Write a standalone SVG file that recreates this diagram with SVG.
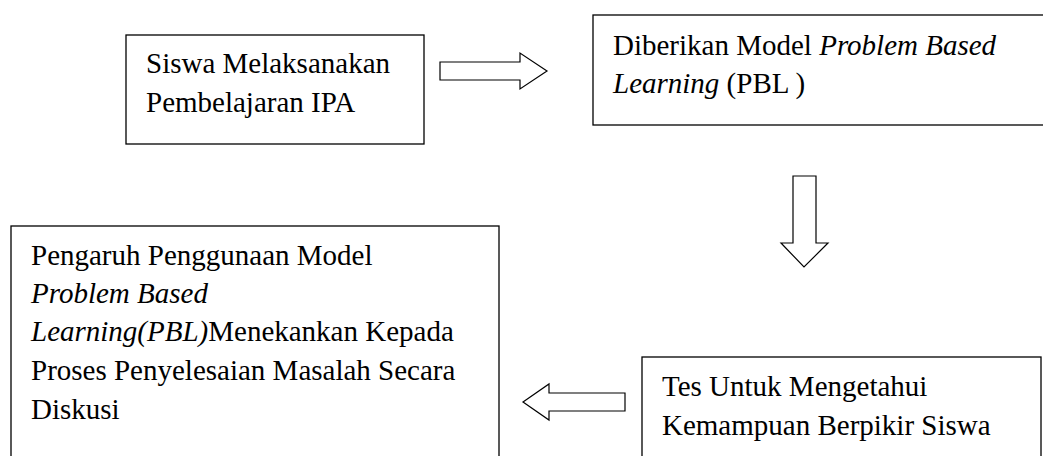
<svg xmlns="http://www.w3.org/2000/svg" width="1043" height="456" viewBox="0 0 1043 456">
<style>
.box{fill:#fff;stroke:#000;stroke-width:1.3}
.arr{fill:#fff;stroke:#000;stroke-width:1.2;stroke-linejoin:miter}
text{font-family:"Liberation Serif","Times New Roman",serif;font-size:29px;fill:#000}
.i{font-style:italic}
</style>
<rect width="1043" height="456" fill="#fff"/>
<g id="node-siswa">
<rect class="box" x="126" y="35" width="298" height="109"/>
<text x="146" y="73">Siswa Melaksanakan</text>
<text x="146" y="112">Pembelajaran IPA</text>
</g>
<g id="node-pbl">
<rect class="box" x="593" y="15" width="470" height="110"/>
<text x="613" y="55">Diberikan Model <tspan class="i">Problem Based</tspan></text>
<text x="613" y="93"><tspan class="i">Learning</tspan> (PBL )</text>
</g>
<g id="node-pengaruh">
<rect class="box" x="11" y="226" width="488" height="250"/>
<text x="31" y="265">Pengaruh Penggunaan Model</text>
<text x="31" y="303" class="i">Problem Based</text>
<text x="31" y="341"><tspan class="i">Learning(PBL)</tspan>Menekankan Kepada</text>
<text x="31" y="380">Proses Penyelesaian Masalah Secara</text>
<text x="31" y="419">Diskusi</text>
</g>
<g id="node-tes">
<rect class="box" x="642" y="357" width="399" height="120"/>
<text x="662" y="396">Tes Untuk Mengetahui</text>
<text x="662" y="435">Kemampuan Berpikir Siswa</text>
</g>
<g id="connectors">
<polygon class="arr" points="440,62 520,62 520,53 547,71 520,89 520,80 440,80"/>
<polygon class="arr" points="793,176 816,176 816,243 828,243 804,267 781,243 793,243"/>
<polygon class="arr" points="625,393 549,393 549,384 523,402 549,420 549,411 625,411"/>
</g>
</svg>
